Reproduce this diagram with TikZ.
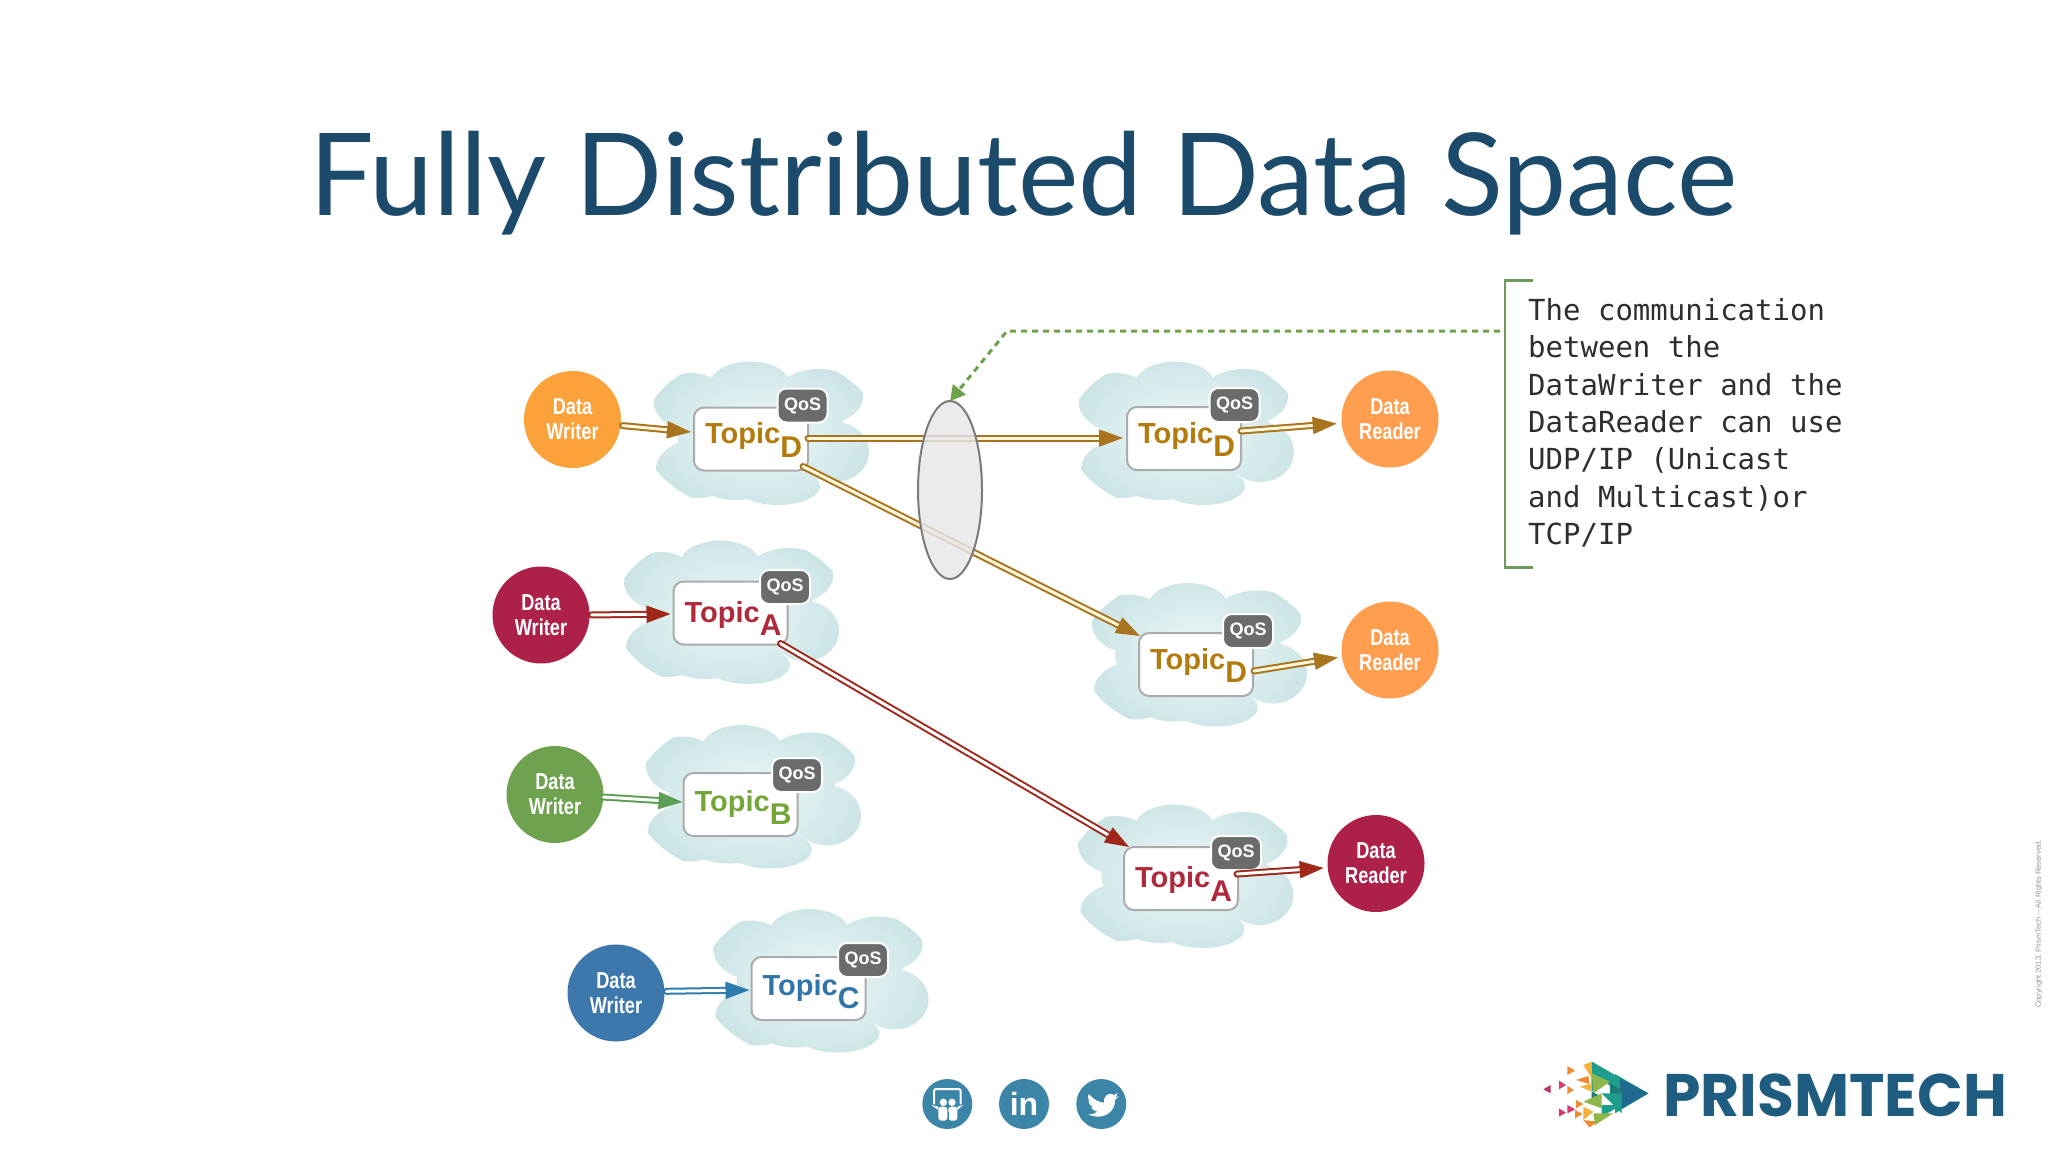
\documentclass[tikz,border=0pt]{standalone}
\usepackage{fontspec}
\usetikzlibrary{arrows.meta,shapes.geometric}
\newfontfamily\titlefont{Lato}
\newfontfamily\arialf{Liberation Sans}
\newfontfamily\narrowf{Liberation Sans}[FakeStretch=0.79]
\newfontfamily\monof{DejaVu Sans Mono}
\newfontfamily\logof{Poppins}
\definecolor{titleblue}{HTML}{1B4A6B}
\definecolor{tD}{HTML}{B27B0C}
\definecolor{tA}{HTML}{AE2A3B}
\definecolor{tB}{HTML}{76A63A}
\definecolor{tC}{HTML}{2F75A8}
\definecolor{aD}{HTML}{A8741E}
\definecolor{aA}{HTML}{A0281A}
\definecolor{aB}{HTML}{5D9E57}
\definecolor{aC}{HTML}{2E7BB0}
\definecolor{cOrangeW}{HTML}{FBA33A}
\definecolor{cOrangeR}{HTML}{FF9E4E}
\definecolor{cCrimson}{HTML}{AC2049}
\definecolor{cGreen}{HTML}{6FA24E}
\definecolor{cBlue}{HTML}{3D78AD}
\definecolor{iconblue}{HTML}{3B85A8}
\definecolor{logoblue}{HTML}{1F5D80}
\definecolor{noteGreen}{HTML}{6FA04A}
\definecolor{brkGreen}{HTML}{6E9A5E}
\definecolor{cloudIn}{HTML}{EEF8F8}
\definecolor{cloudOut}{HTML}{CBE4E6}
\definecolor{lensFill}{HTML}{E7E7EA}
\definecolor{creamD}{HTML}{FFF6DC}
\definecolor{lgTeal}{HTML}{1E9C8C}
\definecolor{lgDeep}{HTML}{1F6A8E}
\definecolor{lgDark}{HTML}{1B7A76}
\definecolor{lgGreen}{HTML}{8FB64A}
\definecolor{lgYel}{HTML}{F6B13C}
\definecolor{lgOr}{HTML}{EE8B33}
\definecolor{lgPink}{HTML}{D63A6C}
\definecolor{lgMag}{HTML}{BE2F62}
\tikzset{
  actor/.style={circle,minimum size=97pt,inner sep=0pt,outer sep=0pt,text=white,align=center,
    font=\narrowf\bfseries\fontsize{23pt}{25pt}\selectfont},
  topicbox/.style={rectangle,rounded corners=10pt,draw=black!33,line width=2pt,fill=white,
    minimum width=114pt,minimum height=63pt,inner sep=0pt,outer sep=0pt},
  qosbox/.style={rectangle,rounded corners=9pt,draw=white,line width=2pt,fill=black!58,text=white,
    minimum width=50pt,minimum height=34pt,inner sep=0pt,
    font=\arialf\bfseries\fontsize{18pt}{18pt}\selectfont},
  flow/.style={draw=#1,double=white,double distance=3pt,line width=2pt,line cap=round,
    -{Triangle[length=24pt,width=17pt,fill=#1,color=#1]}},
  icon/.style={circle,minimum size=50pt,inner sep=0pt,fill=iconblue},
}
% cloud: clip to a union of lobes, shade inside
\newcommand{\cloudat}[2]{%
  \begin{scope}[shift={(#1,#2)}]
    \begin{scope}
      \clip (-70,-31) ellipse [x radius=37,y radius=29]
            (-11,-48.5) ellipse [x radius=40,y radius=23]
            (58,-36) ellipse [x radius=44,y radius=28]
            (74,19) ellipse [x radius=34,y radius=30]
            (17,53) ellipse [x radius=42,y radius=19]
            (-64,36) ellipse [x radius=41,y radius=29]
            (-25,46) ellipse [x radius=40,y radius=21]
            (0,0) ellipse [x radius=84,y radius=52];
      \shade[inner color=cloudIn,outer color=cloudOut] (0,0) ellipse [x radius=118,y radius=80];
    \end{scope}
  \end{scope}}
% #1 name, #2 box centre, #3 qos centre, #4 colour, #5 letter, #6 baseline offset
\newcommand{\topicunit}[6]{%
  \node[topicbox] (#1) at (#2) {\smash{\raisebox{-#6pt}{\hspace*{5pt}\color{#4}\arialf\bfseries\fontsize{29pt}{29pt}\selectfont Topic\raisebox{-13.5pt}{\fontsize{30pt}{30pt}\selectfont #5}}}};
  \node[qosbox] (#1q) at (#3) {QoS};}
\newcommand{\tri}[7]{\fill[#7] (#1,#2) -- (#3,#4) -- (#5,#6) -- cycle;}
\begin{document}
\begin{tikzpicture}[x=1pt,y=-1pt]
\useasboundingbox (0,0) rectangle (2048,1152);
% title
\node[anchor=base west,inner sep=0pt,text=titleblue,font=\titlefont\fontsize{114.5pt}{114.5pt}\selectfont] (title) at (309,215) {Fully Distributed Data Space};
% clouds
\cloudat{761}{433}
\cloudat{731}{612}
\cloudat{753}{796.5}
\cloudat{820.5}{980.5}
\cloudat{1186}{433}
\cloudat{1199}{654.5}
\cloudat{1185.5}{876}
% topics
\topicunit{t1}{751,439}{802.5,405.5}{tD}{D}{4.5}
\topicunit{ta}{730.5,613}{785,587}{tA}{A}{9}
\topicunit{tb}{740.5,804.5}{797,775}{tB}{B}{6.5}
\topicunit{tc}{808.5,988.5}{863,960}{tC}{C}{6.5}
\topicunit{t2}{1184,438.5}{1234.5,405}{tD}{D}{4.5}
\topicunit{t3}{1196,664.5}{1248,631}{tD}{D}{4.5}
\topicunit{t4}{1181,878.5}{1236,853}{tA}{A}{9}
% actors
\node[actor,fill=cOrangeW] (w1) at (572.5,419.5) {Data\\Writer};
\node[actor,fill=cCrimson] (wa) at (541,615) {Data\\Writer};
\node[actor,fill=cGreen] (wb) at (555,794.5) {Data\\Writer};
\node[actor,fill=cBlue] (wc) at (616,993) {Data\\Writer};
\node[actor,fill=cOrangeR] (r1) at (1390,419) {Data\\Reader};
\node[actor,fill=cOrangeR] (r3) at (1390,650) {Data\\Reader};
\node[actor,fill=cCrimson] (ra) at (1376,863.5) {Data\\Reader};
% flows
\draw[flow=aD,double=creamD,shorten <=2pt] (w1.-7) -- ([shift={(-3,-7)}]t1.west);
\draw[flow=aA,shorten <=2pt] (wa.east) -- ([shift={(-3,1)}]ta.west);
\draw[flow=aB] (wb.-3) -- ([shift={(-1,-2.5)}]tb.west);
\draw[flow=aC,shorten <=2pt] (wc.2) -- ([shift={(-2,1.5)}]tc.west);
\draw[flow=aD,double=creamD] ([shift={(0,-1)}]t1.east) -- ([shift={(-4,-0.5)}]t2.west);
\draw[flow=aD,double=creamD,shorten >=5pt] ([shift={(0,-7.5)}]t2.east) -- (r1.185);
\draw[flow=aD,double=creamD] ([shift={(-5,-4)}]t1.south east) -- ([shift={(1,3)}]t3.north west);
\draw[flow=aD,double=creamD,shorten >=4pt] ([shift={(1,6.5)}]t3.east) -- (r3.188.5);
\draw[flow=aA] ([shift={(-7,-1)}]ta.south east) -- ([shift={(5,0)}]t4.north west);
\draw[flow=aA,shorten >=4pt] ([shift={(-1,-4.5)}]t4.east) -- (ra.185);
% lens
\node[ellipse,minimum width=64pt,minimum height=178pt,inner sep=0pt,outer sep=0pt,draw=black!52,line width=2pt,fill=lensFill,fill opacity=.82] (lens) at (950,490) {};
% note
\coordinate (brk) at (1500,331);
\coordinate (bend) at (1007,331);
\draw[noteGreen,line width=3pt,dash pattern=on 6pt off 5pt,-{Triangle[length=15pt,width=16pt,sep=0pt]}] (brk) -- (bend) -- (lens.north);
\draw[brkGreen,line width=2.2pt] (1533,280.5) -- (1505,280.5) -- (1505,567.5) -- (1533,567.5);
\node[anchor=north west,inner sep=0pt,align=left,text=black!82,font=\monof\fontsize{29pt}{37.4pt}\selectfont] (note) at (1528,298) {The communication\\between the\\DataWriter and the\\DataReader can use\\UDP/IP (Unicast\\and Multicast)or\\TCP/IP};
% icons
\node[icon] (iss) at (947.3,1104) {};
\node[icon,text=white,font=\arialf\bfseries\fontsize{32pt}{32pt}\selectfont] (iin) at (1024,1104) {in};
\node[icon] (itw) at (1101.3,1104) {};
\begin{scope}[shift={(910,1070)},x=1/3*1pt,y=-1/3*1pt]
  \draw[white,line width=2pt,rounded corners=2pt] (72,103) -- (72,57) -- (152,57) -- (152,103);
  \fill[white] (100,97) circle [radius=11] (126,97) circle [radius=11];
  \fill[white,rounded corners=3pt] (85,110) rectangle (112,152) (115,110) rectangle (142,152);
  \fill[white] (64,105) -- (85,110) -- (85,120) -- cycle (160,105) -- (142,110) -- (142,120) -- cycle;
  \fill[iconblue] (113,125) rectangle (114.5,152);
  \fill[white] (537,72) .. controls (550,88) and (565,97) .. (582,98)
     .. controls (578,80) and (598,63) .. (612,75) -- (623,69) -- (617,82) -- (626,79) -- (615,90)
     .. controls (617,120) and (585,155) .. (535,133)
     .. controls (550,133) and (555,130) .. (562,125)
     .. controls (552,123) and (546,118) .. (543,112) -- (551,112)
     .. controls (540,107) and (535,100) .. (535,91) -- (543,94)
     .. controls (533,88) and (531,80) .. (537,72) -- cycle;
\end{scope}
% logo mark
\begin{scope}[shift={(1530,1050)},x=1/3*1pt,y=-1/3*1pt]
  \tri{185}{35}{270}{85}{185}{100}{lgTeal}
  \tri{185}{35}{255}{75}{185}{125}{lgTeal}
  \tri{255}{72}{355}{130}{255}{190}{lgTeal}
  \tri{270}{85}{355}{130}{270}{178}{lgDeep}
  \tri{215}{85}{270}{85}{270}{135}{lgTeal}
  \tri{240}{100}{280}{125}{240}{150}{lgDark}
  \tri{185}{70}{240}{95}{190}{130}{lgGreen}
  \tri{160}{45}{185}{35}{185}{85}{lgYel}
  \tri{138}{90}{175}{78}{178}{102}{lgOr}
  \tri{150}{110}{185}{100}{185}{125}{lgYel}
  \tri{215}{130}{275}{130}{275}{190}{lgTeal}
  \tri{185}{125}{215}{140}{185}{165}{lgDark}
  \tri{160}{155}{215}{130}{215}{175}{lgGreen}
  \tri{215}{165}{275}{165}{215}{200}{lgTeal}
  \tri{160}{170}{190}{185}{160}{210}{lgYel}
  \tri{160}{210}{205}{215}{178}{232}{lgOr}
  \tri{190}{190}{250}{190}{195}{225}{lgGreen}
  \tri{112}{48}{135}{62}{112}{75}{lgOr}
  \tri{40}{118}{62}{105}{62}{130}{lgMag}
  \tri{87}{92}{108}{105}{87}{118}{lgPink}
  \tri{112}{108}{132}{120}{112}{132}{lgOr}
  \tri{138}{150}{160}{162}{138}{175}{lgOr}
  \tri{87}{175}{108}{188}{87}{200}{lgPink}
  \tri{112}{165}{135}{178}{112}{190}{lgPink}
  \tri{135}{180}{158}{192}{135}{205}{lgOr}
\end{scope}
\node[anchor=base west,inner sep=0pt,text=logoblue,font=\logof\bfseries\fontsize{60pt}{60pt}\selectfont] (logo) at (1663,1116) {PRISMTECH};
% copyright
\node[rotate=90,inner sep=0pt,text=black!42,font=\arialf\fontsize{7.5pt}{7.5pt}\selectfont] (copy) at (2039,924) {Copyright 2013, PrismTech -- All Rights Reserved.};
\end{tikzpicture}
\end{document}
